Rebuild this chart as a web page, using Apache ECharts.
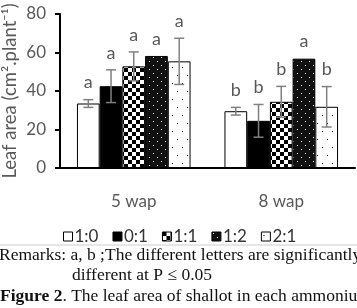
<!DOCTYPE html>
<html>
<head>
<meta charset="utf-8">
<script src="https://cdn.jsdelivr.net/npm/echarts@6/dist/echarts.min.js"></script>
<style>html,body{margin:0;padding:0;background:#fff;}#chart{width:357px;height:308px;}</style>
</head>
<body>
<div id="chart"></div>
<script>
// weeks after planting
var categories = ['5 wap', '8 wap'];
// ammonium : nitrate ratios
var ratios = ['1:0', '0:1', '1:1', '1:2', '2:1'];
// mean leaf area per ratio, [5 wap, 8 wap]
var val10 = [33.5, 29.5];
var val01 = [42.5, 24.5];
var val11 = [52.8, 34.4];
var val12 = [58.2, 56.8];
var val21 = [55.4, 31.8];
// error (+/-)
var err10 = [2, 2];
var err01 = [8.5, 8.5];
var err11 = [7.5, 8];
var err12 = [0, 0];
var err21 = [12, 10.5];
// significance letters
var let10 = ['a', 'b'];
var let01 = ['a', 'b'];
var let11 = ['a', 'b'];
var let12 = ['a', 'a'];
var let21 = ['a', 'b'];

var values = [val10, val01, val11, val12, val21];
var errors = [err10, err01, err11, err12, err21];
var letters = [let10, let01, let11, let12, let21];

function mk(w, h, bg, draw) {
    var c = document.createElement('canvas');
    c.width = w; c.height = h;
    var ctx = c.getContext('2d');
    ctx.fillStyle = bg;
    ctx.fillRect(0, 0, w, h);
    draw(ctx);
    return c;
}
// 1:1 checkerboard
var checker = mk(8, 8, '#fff', function (ctx) {
    ctx.fillStyle = '#000';
    ctx.fillRect(0, 0, 4, 4);
    ctx.fillRect(4, 4, 4, 4);
});
// 1:2 black with white dots
var darkDots = mk(8, 8, '#111', function (ctx) {
    ctx.fillStyle = '#fff';
    ctx.fillRect(1, 1, 1, 1);
    ctx.fillRect(5, 5, 1, 1);
});
// 2:1 white with sparse black dots
var lightDots = mk(10, 16, '#fff', function (ctx) {
    ctx.fillStyle = '#000';
    ctx.fillRect(2, 3, 1, 1);
    ctx.fillRect(7, 11, 1, 1);
});

var fills = ['#ffffff', '#000000',
    {image: checker, repeat: 'repeat'},
    {image: darkDots, repeat: 'repeat'},
    {image: lightDots, repeat: 'repeat'}];

var GAP = 0.23;
var series = ratios.map(function (r, j) {
    return {
        name: r,
        type: 'bar',
        barGap: 0,
        barCategoryGap: (GAP * 100) + '%',
        data: values[j],
        itemStyle: {color: fills[j], borderColor: '#000', borderWidth: 1},
        emphasis: {disabled: true}
    };
});

var errData = [];
for (var j = 0; j < ratios.length; j++) {
    for (var i = 0; i < categories.length; i++) {
        errData.push([i, j, values[j][i] - errors[j][i], values[j][i] + errors[j][i], letters[j][i]]);
    }
}

series.push({
    type: 'custom',
    name: 'err',
    silent: true,
    z: 10,
    data: errData,
    renderItem: function (params, api) {
        var cat = api.value(0), j = api.value(1);
        var hi = api.coord([cat, api.value(3)]);
        var lo = api.coord([cat, api.value(2)]);
        var band = api.size([1, 0])[0];
        var gw = band * (1 - GAP);
        var bw = gw / ratios.length;
        var x = hi[0] - gw / 2 + bw * (j + 0.5);
        var st = {stroke: '#808080', lineWidth: 1.5};
        var children = [];
        if (hi[1] !== lo[1]) {
            children.push(
                {type: 'line', shape: {x1: x, y1: hi[1], x2: x, y2: lo[1]}, style: st},
                {type: 'line', shape: {x1: x - 5, y1: hi[1], x2: x + 5, y2: hi[1]}, style: st},
                {type: 'line', shape: {x1: x - 5, y1: lo[1], x2: x + 5, y2: lo[1]}, style: st}
            );
        }
        children.push({
            type: 'text',
            style: {
                text: errData[params.dataIndex][4],
                x: x, y: hi[1] - 8,
                align: 'center', verticalAlign: 'bottom',
                fill: '#595959', font: '18px Lato'
            }
        });
        return {type: 'group', children: children};
    }
});

var chart = echarts.init(document.getElementById('chart'));
chart.setOption({
    animation: false,
    textStyle: {fontFamily: 'Lato'},
    grid: {left: 60, right: 2, top: 14, bottom: 140, outerBoundsMode: 'none', containLabel: false},
    legend: {
        data: ratios,
        top: 223,
        left: 58,
        itemWidth: 9,
        itemHeight: 9,
        itemGap: 14,
        icon: 'rect',
        textStyle: {fontSize: 17, color: '#333', fontFamily: 'Lato', padding: [0, 0, 0, -3]},
        itemStyle: {borderColor: '#000', borderWidth: 1}
    },
    xAxis: {
        type: 'category',
        data: categories,
        axisLine: {lineStyle: {color: '#000', width: 2}},
        axisTick: {length: 5, lineStyle: {color: '#000', width: 2}},
        axisLabel: {margin: 25, fontSize: 17, color: '#595959'}
    },
    yAxis: {
        type: 'value',
        min: 0, max: 80, interval: 20,
        name: 'Leaf area (cm\u00b2.plant\u207b\u00b9)',
        nameLocation: 'middle',
        nameGap: 40,
        nameMoveOverlap: false,
        nameTextStyle: {fontSize: 18.5, color: '#595959'},
        axisLine: {show: true, lineStyle: {color: '#000', width: 2}},
        axisTick: {show: true, length: 5, lineStyle: {color: '#000', width: 2}},
        splitLine: {show: false},
        axisLabel: {fontSize: 17, color: '#595959', margin: 14}
    },
    graphic: [
        {type: 'line', shape: {x1: 0, y1: 245, x2: 357, y2: 245}, style: {stroke: '#ccc', lineWidth: 1}},
        {type: 'text', left: -1, top: 246, style: {text: 'Remarks: a, b ;The different letters are significantly', font: '17.5px "Liberation Serif"', fill: '#111'}},
        {type: 'text', left: 72, top: 266, style: {text: 'different at P \u2264 0.05', font: '17.5px "Liberation Serif"', fill: '#111'}},
        {type: 'text', left: 0, top: 287, style: {
            text: '{b|Figure 2}. The leaf area of shallot in each ammonium',
            font: '17.5px "Liberation Serif"', fill: '#111',
            rich: {b: {fontWeight: 'bold', fontSize: 17.5, fontFamily: 'Liberation Serif', fill: '#111'}}
        }}
    ],
    series: series
});
</script>
</body>
</html>
